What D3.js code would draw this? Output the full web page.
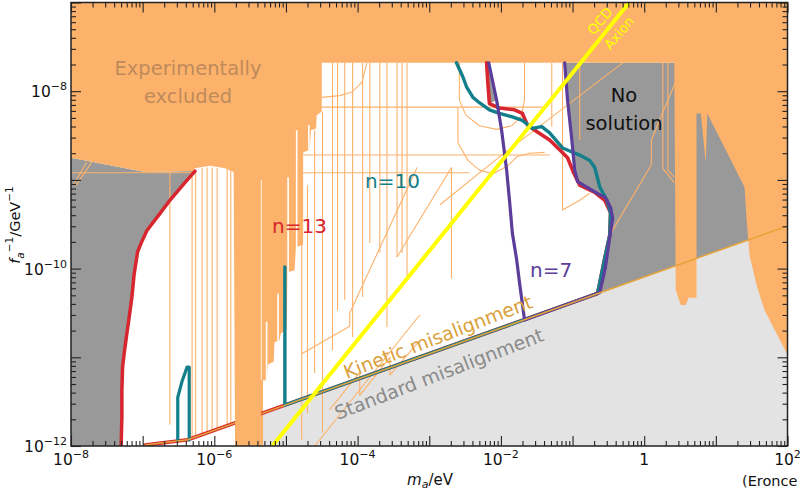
<!DOCTYPE html>
<html>
<head>
<meta charset="utf-8">
<script src="https://cdn.jsdelivr.net/npm/d3@7"></script>
<style>
  body { margin: 0; background: #fff; }
  svg { display: block; }
  text { font-family: "DejaVu Sans", sans-serif; }
</style>
</head>
<body>
<svg id="chart" width="800" height="491"></svg>
<script>
// Every point is [log10(m_a / eV), log10(f_a^-1 / GeV^-1)]

// axis decades and labelled decades
const massDecades = [-8, -7, -6, -5, -4, -3, -2, -1, 0, 1, 2];
const massLabelExps = [-8, -6, -4, -2, 0, 2];
const couplingDecades = [-12, -11, -10, -9, -8, -7];
const couplingLabelExps = [-12, -10, -8];

// experimentally excluded region (haloscopes, helioscopes, astrophysics ...)
const excludedMain = [
  [-8, -7], [2, -7], [2, -10.97], [1.82, -10.69], [1.68, -10.47], [1.57, -10.19],
  [1.47, -9.85], [1.43, -9.45], [1.40, -9.08], [0.88, -8.25], [0.86, -8.81],
  [0.79, -8.25], [0.73, -8.25], [0.73, -10.33], [0.62, -10.33], [0.58, -10.41],
  [0.51, -10.41], [0.44, -10.24], [0.42, -7.68], [-4.50, -7.68], [-4.50, -8.23],
  [-4.57, -8.27], [-4.58, -8.42], [-4.65, -8.44], [-4.67, -8.66], [-4.76, -8.69],
  [-4.76, -9.73], [-4.86, -9.76], [-4.88, -10.02], [-4.97, -10.04], [-4.99, -10.69],
  [-5.07, -10.73], [-5.09, -10.81], [-5.16, -10.83], [-5.17, -11.05], [-5.25, -11.08],
  [-5.27, -11.26], [-5.32, -11.26], [-5.32, -12],
  [-5.71, -12], [-5.73, -8.91], [-5.85, -8.87], [-6.06, -8.84], [-6.27, -8.87],
  [-6.30, -8.90], [-6.97, -8.91], [-8, -8.75]
];
// the broad exclusion band near 1 micro-eV
const excludedBand = [[-5.71, -12], [-5.35, -12], [-5.35, -8.90], [-5.71, -8.90]];
// narrow unexcluded gaps inside the excluded spikes: [log m, top, bottom]
const excludedGaps = [
  [-5.35, -9.00, -11.26], [-5.27, -10.60, -11.26], [-5.11, -10.28, -10.83],
  [-4.97, -8.97, -10.69], [-4.85, -8.44, -9.99], [-4.68, -8.38, -8.66]
];

// thin outlines of individual experimental limits
const limitVerticals = [
  [-6.62, -8.91, -11.76], [-6.31, -8.89, -11.92], [-6.26, -8.89, -11.90],
  [-6.17, -8.87, -11.88], [-6.10, -8.86, -11.86], [-6.03, -8.86, -11.84],
  [-5.96, -8.87, -11.82], [-5.82, -8.87, -11.78], [-5.77, -8.89, -11.76],
  [-4.78, -9.68, -11.93], [-4.70, -9.06, -11.63], [-4.60, -8.44, -11.18],
  [-4.49, -8.23, -11.85], [-4.35, -7.68, -10.92], [-4.28, -7.68, -10.47],
  [-4.18, -7.68, -10.35], [-4.07, -7.68, -10.77], [-3.93, -7.68, -10.32],
  [-3.83, -7.68, -9.71], [-3.69, -7.68, -9.82], [-3.59, -7.68, -10.66],
  [-3.45, -7.68, -9.87], [-3.38, -7.68, -9.82], [-3.31, -7.68, -10.10],
  [-2.69, -8.86, -10.11], [-1.29, -7.68, -8.40], [-0.90, -7.68, -8.55],
  [0.26, -7.68, -8.87], [0.33, -7.68, -8.89]
];
const limitOutlines = [
  [[-4.95, -8.18], [-1.39, -8.18]],
  [[-4.81, -8.72], [-1.32, -8.72]],
  [[-8, -8.92], [-6.27, -8.92]],
  [[-4.81, -8.92], [-2.44, -8.92]],
  [[-4.50, -8.07], [-4.25, -8.05], [-4.08, -8.01], [-3.94, -7.90], [-3.87, -7.68]],
  [[-2.58, -7.68], [-2.58, -8.10], [-2.49, -8.27], [-2.30, -8.39], [-2.06, -8.43],
   [-1.85, -8.39], [-1.72, -8.29], [-1.67, -8.10], [-1.67, -7.68]],
  [[-2.60, -8.18], [-2.60, -8.58], [-2.46, -8.78], [-2.30, -8.89], [-2.11, -8.93],
   [-1.90, -8.84], [-1.78, -8.74], [-1.60, -8.70], [-1.39, -8.69]],
  [[-2.69, -8.86], [-3.45, -9.87]],
  [[-3.17, -8.86], [-4.11, -10.50], [-4.11, -10.65], [-4.78, -10.96]],
  [[-2.99, -9.79], [-4.67, -11.48]],
  [[-4.39, -11.59], [-3.97, -11.17], [-3.97, -11.43], [-3.55, -11.00], [-3.55, -11.20], [-3.13, -10.81]],
  [[-4.60, -12], [-3.13, -10.52]],
  [[-0.30, -7.68], [-2.02, -8.74], [-2.85, -9.28]],
  [[0.45, -7.87], [0.10, -8.55], [0.10, -8.83], [-0.48, -9.62]],
  [[-1.14, -7.68], [-1.14, -9.34], [-0.90, -9.23], [-0.76, -9.15]],
  [[-7.97, -9.06], [-7.78, -8.80]],
  [[-7.93, -9.06], [-7.71, -8.80]],
  [[0.26, -8.87], [0.42, -9.03]],
  [[0.33, -8.89], [0.42, -8.97]]
];

// standard (light grey) and kinetic misalignment boundary
const kineticLine = [[-6.97, -11.99], [-6.37, -11.93], [1.44, -9.68], [2, -9.52]];
const standardRegion = [[-5.71, -11.74], [1.44, -9.68], [2, -9.52], [2, -12], [-5.71, -12]];

// regions without a solution (dark grey)
const leftNoSolutionEdge = [[-8, -8.75], [-6.97, -8.91]];
const rightNoSolution = [
  [-1.11, -7.68], [-1.07, -8.10], [-1.01, -8.55], [-0.97, -8.89], [-0.93, -9.02],
  [-0.66, -9.15], [-0.52, -9.23], [-0.44, -9.43], [-0.48, -9.64], [-0.55, -9.88],
  [-0.65, -10.28], [1.44, -9.68], [2, -9.52], [2, -7.68]
];
const topNoSolution = [[-2.20, -7.68], [-2.17, -7.68], [-2.06, -8.10], [-2.16, -8.14], [-2.18, -7.93]];

// contours for n = 13, 10, 7
const n13Left = [
  [-6.27, -8.90], [-6.44, -9.06], [-6.62, -9.23], [-6.76, -9.38], [-6.94, -9.57],
  [-7.02, -9.71], [-7.07, -9.81], [-7.12, -10.07], [-7.15, -10.32], [-7.19, -10.56],
  [-7.22, -10.73], [-7.26, -10.97], [-7.28, -11.11], [-7.29, -11.37], [-7.29, -11.67],
  [-7.30, -12.0]
];
const n13Right = [
  [-2.20, -7.68], [-2.18, -7.93], [-2.16, -8.14], [-2.02, -8.19], [-1.81, -8.21],
  [-1.70, -8.25], [-1.63, -8.38], [-1.49, -8.46], [-1.32, -8.55], [-1.18, -8.66],
  [-1.07, -8.75], [-0.99, -8.91], [-0.90, -9.06], [-0.69, -9.14], [-0.55, -9.23],
  [-0.47, -9.37], [-0.48, -9.62], [-0.55, -9.88], [-0.65, -10.28], [-6.37, -11.93],
  [-6.97, -11.99]
];
const n10Right = [
  [-2.62, -7.68], [-2.53, -7.84], [-2.48, -7.95], [-2.39, -8.07], [-2.30, -8.13],
  [-2.16, -8.21], [-2.02, -8.25], [-1.84, -8.29], [-1.70, -8.33], [-1.56, -8.42],
  [-1.43, -8.40], [-1.32, -8.47], [-1.14, -8.64], [-0.90, -8.72], [-0.76, -8.78],
  [-0.69, -8.86], [-0.62, -9.08], [-0.52, -9.23], [-0.47, -9.37], [-0.48, -9.62],
  [-0.55, -9.88], [-0.65, -10.28], [-5.015, -11.54], [-5.015, -9.98]
];
const n10Small = [[-6.51, -11.94], [-6.51, -11.45], [-6.45, -11.27], [-6.38, -11.11], [-6.35, -11.11], [-6.35, -11.93]];
const n7 = [
  [-2.17, -7.68], [-2.06, -8.10], [-1.99, -8.44], [-1.92, -8.89], [-1.88, -9.23],
  [-1.84, -9.60], [-1.78, -9.90], [-1.74, -10.16], [-1.67, -10.58], [-0.62, -10.27],
  [-0.54, -9.98], [-0.48, -9.64], [-0.44, -9.43], [-0.47, -9.31], [-0.54, -9.20],
  [-0.66, -9.15], [-0.93, -9.02], [-0.97, -8.89], [-1.01, -8.55], [-1.07, -8.10],
  [-1.11, -7.68]
];

// QCD axion band centre
const qcdLine = [[-5.19, -12], [-0.21, -7]];

const colors = {
  excluded: "#fdb26b", noSolution: "#999999", standard: "#e3e3e3",
  n13: "#d7262f", n10: "#137f8b", n7: "#5b3d9b", kinetic: "#e5a33a", qcd: "#ffff00"
};

// ---------------------------------------------------------------------------
const svg = d3.select("#chart");
const plot = { left: 71, right: 787.5, top: 2.5, bottom: 446 };

const x = d3.scaleLog().domain([1e-8, 1e2]).range([plot.left, plot.right]);
const y = d3.scaleLog().domain([1e-12, 1e-7]).range([plot.bottom, plot.top]);
const px = p => x(Math.pow(10, p[0]));
const py = p => y(Math.pow(10, p[1]));
const line = d3.line().x(px).y(py);
const closed = pts => line(pts) + "Z";

svg.append("defs").append("clipPath").attr("id", "plotClip")
  .append("rect").attr("x", plot.left).attr("y", plot.top)
  .attr("width", plot.right - plot.left).attr("height", plot.bottom - plot.top);

const g = svg.append("g").attr("clip-path", "url(#plotClip)");

// background regions
g.append("path").attr("d", closed(standardRegion)).attr("fill", colors.standard);
g.append("path").attr("d", closed([...leftNoSolutionEdge, ...n13Left, [-8, -12]])).attr("fill", colors.noSolution);
g.append("path").attr("d", closed(rightNoSolution)).attr("fill", colors.noSolution);
g.append("path").attr("d", closed(topNoSolution)).attr("fill", colors.noSolution);

// excluded region
g.append("path").attr("d", closed(excludedMain)).attr("fill", colors.excluded);
g.selectAll("line.gap").data(excludedGaps).join("line").attr("class", "gap")
  .attr("x1", d => px(d)).attr("x2", d => px(d))
  .attr("y1", d => py([d[0], d[1]])).attr("y2", d => py([d[0], d[2]]))
  .attr("stroke", "#fff").attr("stroke-width", 1.6);

// limit outlines
const outlineStyle = sel => sel.attr("fill", "none").attr("stroke", colors.excluded)
  .attr("stroke-width", 1.1).attr("stroke-linejoin", "round");
g.selectAll("line.lim").data(limitVerticals).join("line").attr("class", "lim")
  .attr("x1", d => px(d)).attr("x2", d => px(d))
  .attr("y1", d => py([d[0], d[1]])).attr("y2", d => py([d[0], d[2]]))
  .call(outlineStyle);
g.selectAll("path.lim").data(limitOutlines).join("path").attr("class", "lim")
  .attr("d", d => line(d)).call(outlineStyle);

// contours
const contour = (pts, color, w) => g.append("path").attr("d", line(pts))
  .attr("fill", "none").attr("stroke", color).attr("stroke-width", w)
  .attr("stroke-linejoin", "round").attr("stroke-linecap", "round");
contour(n13Left, colors.n13, 3.5);
contour(n13Right, colors.n13, 3.6);
contour(n10Right, colors.n10, 3.4);
contour(n10Small, colors.n10, 3.2);
contour(n7, colors.n7, 3.2);
g.append("path").attr("d", line(kineticLine)).attr("fill", "none")
  .attr("stroke", colors.kinetic).attr("stroke-width", 1.5);

// broad band sits above the contours
g.append("path").attr("d", closed(excludedBand)).attr("fill", colors.excluded);

// QCD axion line
g.append("path").attr("d", line(qcdLine)).attr("fill", "none")
  .attr("stroke", colors.qcd).attr("stroke-width", 4);

// ---------------------------------------------------------------------------
// labels inside the plot
const label = (txt, xx, yy, opts = {}) => {
  const t = svg.append("text").attr("x", xx).attr("y", yy).text(txt)
    .attr("font-size", opts.size || 19.5).attr("fill", opts.color || "#000")
    .attr("text-anchor", opts.anchor || "middle");
  if (opts.rotate !== undefined) {
    t.attr("transform", `rotate(${opts.rotate},${xx},${yy})`).attr("dy", "0.35em");
  }
  return t;
};
label("Experimentally", 188, 75, { color: "#bd8a5a" });
label("excluded", 188, 103, { color: "#bd8a5a" });
label("No", 624, 102, { color: "#111" });
label("solution", 624, 130, { color: "#111" });
label("n=13", 272, 233, { color: colors.n13, anchor: "start", size: 20 });
label("n=10", 365, 188, { color: colors.n10, anchor: "start", size: 20 });
label("n=7", 530, 277, { color: colors.n7, anchor: "start", size: 20 });
label("Kinetic misalignment", 438, 337, { color: "#daa03a", rotate: -21, size: 19 });
label("Standard misalignment", 439, 374, { color: "#8a8a8a", rotate: -21, size: 19 });
label("QCD", 600, 21, { color: colors.qcd, rotate: -50, size: 13.5 });
label("Axion", 619, 33, { color: colors.qcd, rotate: -50, size: 13.5 });

// ---------------------------------------------------------------------------
// axes: ticks on all four sides, pointing inward
const minors = (decades) => {
  const out = [];
  decades.slice(0, -1).forEach(e => { for (let k = 2; k <= 9; k++) out.push(k * Math.pow(10, e)); });
  return out;
};
const massMajor = massDecades.map(e => Math.pow(10, e));
const couplingMajor = couplingDecades.map(e => Math.pow(10, e));
const massMinor = minors(massDecades);
const couplingMinor = minors(couplingDecades);

const axisDefs = [
  [d3.axisBottom(x), `translate(0,${plot.bottom})`, massMajor, massMinor],
  [d3.axisTop(x), `translate(0,${plot.top})`, massMajor, massMinor],
  [d3.axisLeft(y), `translate(${plot.left},0)`, couplingMajor, couplingMinor],
  [d3.axisRight(y), `translate(${plot.right},0)`, couplingMajor, couplingMinor]
];
axisDefs.forEach(([ax, tr, maj, min]) => {
  [[maj, -10], [min, -5]].forEach(([vals, size]) => {
    const a = svg.append("g").attr("transform", tr)
      .call(ax.tickValues(vals).tickSize(size).tickFormat(""));
    a.select(".domain").remove();
    a.selectAll(".tick line").attr("stroke", "#222").attr("stroke-width", 1.1);
  });
});

svg.append("rect").attr("x", plot.left).attr("y", plot.top)
  .attr("width", plot.right - plot.left).attr("height", plot.bottom - plot.top)
  .attr("fill", "none").attr("stroke", "#222").attr("stroke-width", 1.5);

// tick labels with superscript exponents
const powerLabel = (e, xx, yy, anchor) => {
  const t = svg.append("text").attr("x", xx).attr("y", yy)
    .attr("font-size", 15.5).attr("fill", "#111").attr("text-anchor", anchor);
  if (e === 0) { t.text("1"); return; }
  t.append("tspan").text("10");
  t.append("tspan").attr("dy", -7).attr("font-size", 11)
    .text(e < 0 ? "\u2212" + Math.abs(e) : String(e));
};
massLabelExps.forEach(e => powerLabel(e, x(Math.pow(10, e)), 465, "middle"));
couplingLabelExps.forEach(e => powerLabel(e, 67, y(Math.pow(10, e)) + 6, "end"));

// axis titles
const xt = svg.append("text").attr("x", 430).attr("y", 485).attr("font-size", 15)
  .attr("text-anchor", "middle").attr("fill", "#111");
xt.append("tspan").attr("font-style", "italic").text("m");
xt.append("tspan").attr("dy", 3).attr("font-size", 11).attr("font-style", "italic").text("a");
xt.append("tspan").attr("dy", -3).text("/eV");

const yt = svg.append("text").attr("transform", "translate(20,225) rotate(-90)")
  .attr("font-size", 14.5).attr("text-anchor", "middle").attr("fill", "#111");
yt.append("tspan").attr("font-style", "italic").text("f");
yt.append("tspan").attr("dy", 4).attr("font-size", 10.5).attr("font-style", "italic").text("a");
yt.append("tspan").attr("dy", -11).attr("font-size", 10.5).text("\u22121");
yt.append("tspan").attr("dy", 7).text("/GeV");
yt.append("tspan").attr("dy", -7).attr("font-size", 10.5).text("\u22121");

svg.append("text").attr("x", 742).attr("y", 486).attr("font-size", 14.5)
  .attr("fill", "#111").text("(Eronce");
</script>
</body>
</html>
